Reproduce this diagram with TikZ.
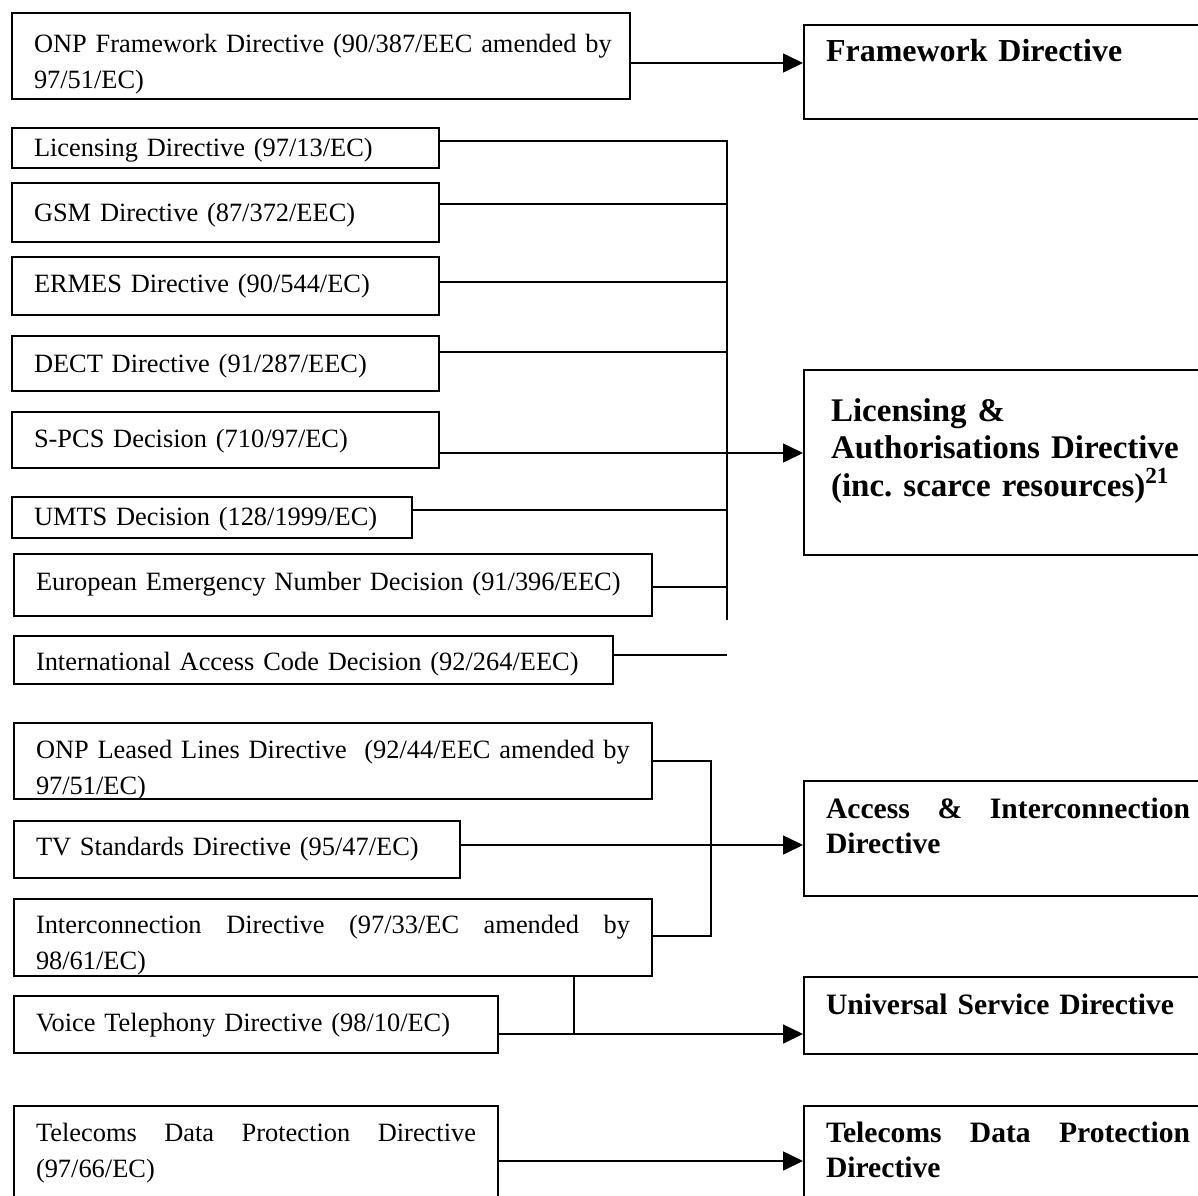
\documentclass[tikz,border=0pt]{standalone}
\usepackage{fontspec}
\setmainfont{Liberation Serif}
\usetikzlibrary{arrows.meta,calc}

\newcommand{\srcfont}{\fontsize{13.2}{18}\selectfont}
\newcommand{\dstfont}{\fontsize{14.8}{17.5}\selectfont\bfseries}
\newcommand{\fwfont}{\fontsize{16}{17.5}\selectfont\bfseries}
\newcommand{\licfont}{\fontsize{16.5}{18.75}\selectfont\bfseries}

\tikzset{
  src/.style={draw, line width=1pt, anchor=north west, inner ysep=0pt, inner xsep=11pt, align=left, font=\srcfont},
  dst/.style={draw, line width=1pt, anchor=north west, inner ysep=0pt, inner xsep=11pt, text width=196pt, align=left, font=\dstfont},
  sz/.style n args={3}{text width=#1, text height=#2, text depth=#3},
  hd/.style 2 args={text height=#1, text depth=#2},
  link/.style={line width=0.8pt},
  arr/.style={link, -{Triangle[length=10pt,width=9.5pt]}}
}

\begin{document}
\begin{tikzpicture}[x=0.5pt, y=-0.5pt]
    \useasboundingbox (0,0) rectangle (1198,1195);

    % Bestehende Richtlinien (links)
    \node[src, sz={287pt}{19.5pt}{23.5pt}] (onp) at (11,12)
        {\hbox to 287pt{ONP Framework Directive (90/387/EEC amended by}\\97/51/EC)};
    \node[src, sz={191.5pt}{14pt}{6pt}] (lic) at (11,127) {Licensing Directive (97/13/EC)};
    \node[src, sz={191.5pt}{19pt}{10.5pt}] (gsm) at (11,182) {GSM Directive (87/372/EEC)};
    \node[src, sz={191.5pt}{17.5pt}{11.5pt}] (ermes) at (11,256) {ERMES Directive (90/544/EC)};
    \node[src, sz={191.5pt}{18pt}{9.5pt}] (dect) at (11,335) {DECT Directive (91/287/EEC)};
    \node[src, sz={191.5pt}{17.5pt}{10.5pt}] (spcs) at (11,411) {S-PCS Decision (710/97/EC)};
    \node[src, sz={178pt}{14pt}{6.5pt}] (umts) at (11,496) {UMTS Decision (128/1999/EC)};
    \node[src, sz={297pt}{18pt}{13pt}] (een) at (13,553) {European Emergency Number Decision (91/396/EEC)};
    \node[src, sz={277.5pt}{17pt}{7pt}] (iac) at (13,635) {International Access Code Decision (92/264/EEC)};

    \node[src, sz={297pt}{17.5pt}{20.5pt}] (ll) at (13,722)
        {\hbox to 297pt{ONP Leased Lines Directive~ (92/44/EEC amended by}\\97/51/EC)};
    \node[src, sz={201pt}{17pt}{11.5pt}] (tv) at (13,820) {TV Standards Directive (95/47/EC)};
    \node[src, sz={297pt}{17pt}{21.5pt}] (ic) at (13,898)
        {\hbox to 297pt{Interconnection\hfill Directive\hfill (97/33/EC\hfill amended\hfill by}\\98/61/EC)};
    \node[src, sz={220pt}{17.5pt}{11pt}] (vt) at (13,995) {Voice Telephony Directive (98/10/EC)};
    \node[src, sz={220pt}{17.5pt}{32.5pt}] (tdp) at (13,1105)
        {\hbox to 220pt{Telecoms\hfill Data\hfill Protection\hfill Directive}\\(97/66/EC)};

    % Neue Richtlinien (rechts)
    \node[dst, hd={18pt}{29pt}, font=\fwfont] (fw) at (803,24) {Framework Directive};
    \node[dst, hd={25.5pt}{67pt}, inner xsep=13.5pt, text width=191pt, font=\licfont] (la) at (803,369)
        {Licensing \&\\Authorisations Directive\\(inc.\ scarce resources)\textsuperscript{21}};
    \node[dst, hd={18.5pt}{39pt}] (ai) at (803,780)
        {\hbox to 182pt{Access\hfill\&\hfill Interconnection}\\Directive};
    \node[dst, hd={18.5pt}{20pt}] (us) at (803,976) {Universal Service Directive};
    \node[dst, hd={18pt}{32pt}] (tdpr) at (803,1105)
        {\hbox to 182pt{Telecoms\hfill Data\hfill Protection}\\Directive};

    % Sammelleitung
    \coordinate (bus) at (727,620);
    \coordinate (vtj) at (574,0);
    \coordinate (vtline) at ([yshift=-4.75pt]vt.east);

    \draw[arr] ([yshift=-3.5pt]onp.east) -- ([yshift=-3.5pt]onp.east -| fw.west);

    \draw[link] ([yshift=3.5pt]lic.east) -- ([yshift=3.5pt]lic.east -| bus) -- (bus);
    \draw[link] ([yshift=4.25pt]gsm.east) -- ([yshift=4.25pt]gsm.east -| bus);
    \draw[link] ([yshift=2pt]ermes.east) -- ([yshift=2pt]ermes.east -| bus);
    \draw[link] ([yshift=5.75pt]dect.east) -- ([yshift=5.75pt]dect.east -| bus);
    \draw[arr] ([yshift=-6.5pt]spcs.east) -- ([yshift=-6.5pt]spcs.east -| la.west);
    \draw[link] ([yshift=3.75pt]umts.east) -- ([yshift=3.75pt]umts.east -| bus);
    \draw[link] ([yshift=-1pt]een.east) -- ([yshift=-1pt]een.east -| bus);
    \draw[link] ([yshift=2.5pt]iac.east) -- ([yshift=2.5pt]iac.east -| bus);

    \draw[link] (ll.east) -- ++(29pt,0) |- ([yshift=0.75pt]ic.east);
    \draw[arr] ([yshift=2.25pt]tv.east) -- ([yshift=2.25pt]tv.east -| ai.west);

    \draw[arr] (vtline) -- (vtline -| us.west);
    \draw[link] (vtj |- ic.south) -- (vtj |- vtline);

    \draw[arr] ([yshift=-2.5pt]tdp.east) -- ([yshift=-2.5pt]tdp.east -| tdpr.west);
\end{tikzpicture}
\end{document}
